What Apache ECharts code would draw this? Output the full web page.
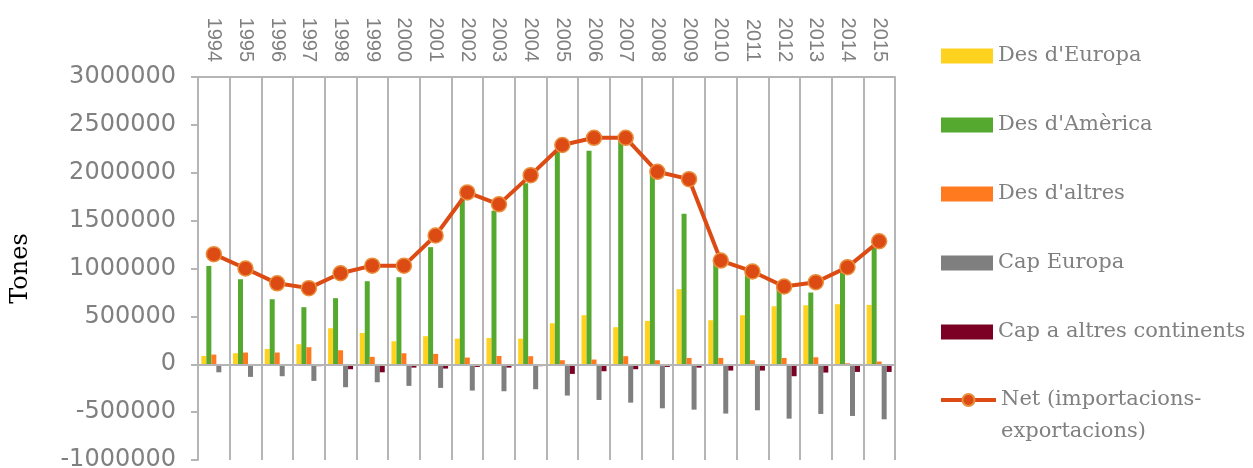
<!DOCTYPE html>
<html>
<head>
<meta charset="utf-8">
<script src="https://cdn.jsdelivr.net/npm/echarts@6/dist/echarts.min.js"></script>
<style>
html,body{margin:0;padding:0;background:#fff;}
#chart{width:1253px;height:468px;}
</style>
</head>
<body>
<div id="chart"></div>
<script>
var years = ['1994','1995','1996','1997','1998','1999','2000','2001','2002','2003','2004','2005','2006','2007','2008','2009','2010','2011','2012','2013','2014','2015'];
var desEuropa = [87000,115000,160000,209000,376000,327000,240000,293000,268000,275000,268000,428000,512000,387000,453000,784000,460000,512000,606000,616000,627000,620000];
var desAmerica = [1027000,888000,679000,596000,690000,867000,909000,1223000,1738000,1602000,1891000,2236000,2229000,2348000,1985000,1571000,1111000,965000,820000,749000,958000,1226000];
var desAltres = [101000,122000,122000,178000,146000,77000,115000,108000,70000,87000,84000,42000,49000,84000,42000,66000,66000,42000,66000,73000,10000,28000];
var capEuropa = [-84000,-132000,-125000,-174000,-240000,-188000,-226000,-247000,-275000,-282000,-261000,-327000,-373000,-401000,-460000,-474000,-515000,-481000,-568000,-519000,-540000,-575000];
var capAltres = [-10000,-12000,-12000,-20000,-52000,-84000,-35000,-45000,-28000,-35000,-20000,-101000,-73000,-52000,-28000,-35000,-66000,-66000,-125000,-87000,-80000,-80000];
var net = [1150000,1000000,845000,795000,950000,1030000,1030000,1345000,1795000,1670000,1975000,2290000,2365000,2365000,2010000,1933000,1083000,969000,812000,857000,1014000,1285000];

var names = ["Des d'Europa","Des d'Amèrica","Des d'altres","Cap Europa","Cap a altres continents","Net (importacions-exportacions)"];
var colors = ['#FFD21F','#56A92F','#FF7A1E','#7F7F7F','#7B0023','#DD4B14'];
var barData = [desEuropa, desAmerica, desAltres, capEuropa, capAltres];

var gridColor = '#B5B5B5';
var textGray = '#808080';

var series = barData.map(function(d, i){
  var s = {
    name: names[i], type: 'bar', data: d, barWidth: 5, barGap: '0%',
    itemStyle: {color: colors[i]}, silent: true, z: 2
  };
  if (i === 0) {
    s.markLine = {
      silent: true, symbol: ['none','none'], label: {show: false},
      lineStyle: {color: gridColor, width: 2, type: 'solid'},
      data: [{yAxis: 0}], animation: false
    };
  }
  return s;
});
series.push({
  name: names[5], type: 'line', data: net, z: 5,
  symbol: 'circle', symbolSize: 15,
  lineStyle: {color: colors[5], width: 4},
  itemStyle: {color: colors[5], borderColor: '#E98F3C', borderWidth: 1.5},
  silent: true
});

var chart = echarts.init(document.getElementById('chart'), null, {renderer: 'canvas'});
chart.setOption({
  animation: false,
  backgroundColor: '#fff',
  grid: {left: 198, right: 358, top: 77, bottom: 8, containLabel: false, outerBoundsMode: 'none'},
  legend: [{
    data: names.slice(0,5),
    orient: 'vertical', left: 936, top: 36,
    itemWidth: 52, itemHeight: 15, itemGap: 39,
    icon: 'rect',
    textStyle: {fontFamily: 'DejaVu Serif', fontSize: 21, color: textGray, lineHeight: 30},
    selectedMode: false
  },{
    data: [names[5]],
    orient: 'vertical', left: 934, top: 347,
    itemWidth: 55, itemHeight: 15,
    lineStyle: {width: 4},
    formatter: function(){ return ' \nNet (importacions-\nexportacions)'; },
    textStyle: {fontFamily: 'DejaVu Serif', fontSize: 21, color: textGray, lineHeight: 32},
    selectedMode: false
  }],
  xAxis: {
    type: 'category', data: years, position: 'top', boundaryGap: true,
    axisLine: {show: true, onZero: false, lineStyle: {color: gridColor, width: 2}},
    axisTick: {show: false},
    axisLabel: {rotate: 90, margin: 15, fontFamily: 'Liberation Sans', fontSize: 20, color: textGray, interval: 0},
    splitLine: {show: true, lineStyle: {color: gridColor, width: 2}}
  },
  yAxis: {
    type: 'value', min: -1000000, max: 3000000, interval: 500000,
    name: 'Tones', nameLocation: 'middle', nameRotate: 90, nameGap: 165,
    nameTextStyle: {fontFamily: 'DejaVu Serif', fontSize: 24, color: '#000'},
    axisLine: {show: true, lineStyle: {color: gridColor, width: 2}},
    axisTick: {show: true, length: 7, lineStyle: {color: gridColor, width: 2}},
    axisLabel: {margin: 22, fontFamily: 'DejaVu Sans', fontSize: 24, color: textGray,
      formatter: function(v){ return String(v); }},
    splitLine: {show: false}
  },
  series: series
});
</script>
</body>
</html>
